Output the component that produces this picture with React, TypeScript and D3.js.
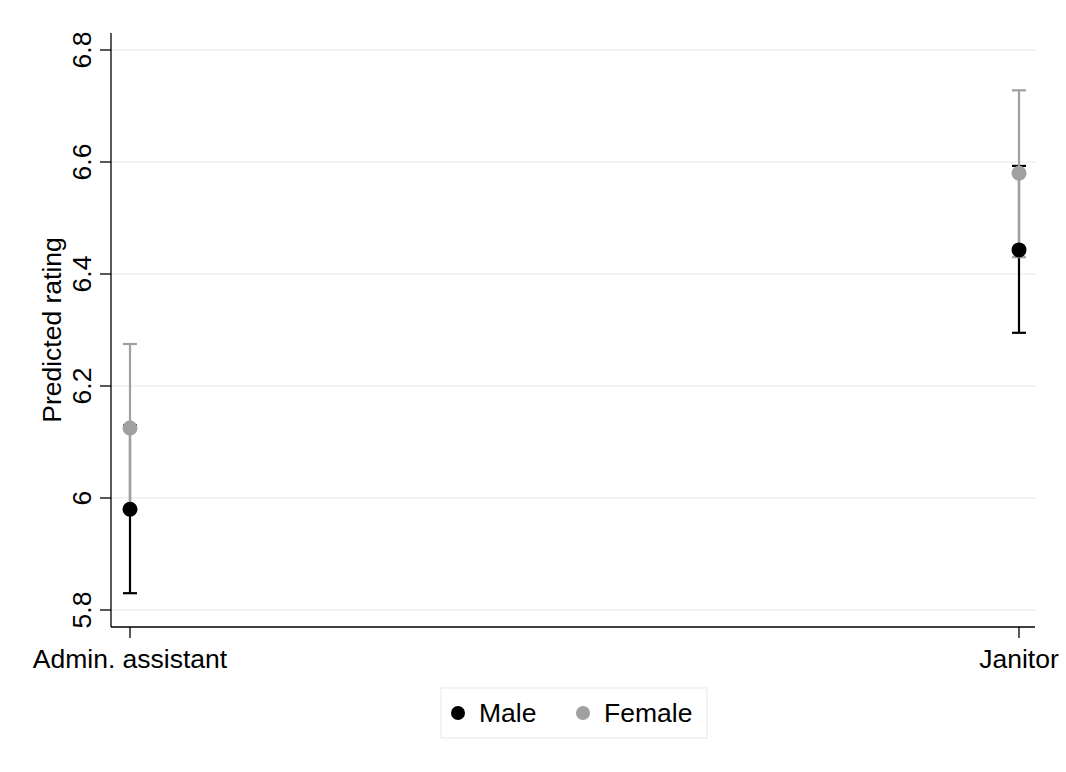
import React from "react";
import * as d3 from "d3";

const categories = ["Admin. assistant", "Janitor"];
const seriesNames = ["Male", "Female"];
const seriesColors = ["#000000", "#a0a0a0"];
const maleMean = [5.98, 6.443];
const maleLow = [5.83, 6.295];
const maleHigh = [6.13, 6.593];
const femaleMean = [6.125, 6.58];
const femaleLow = [5.977, 6.43];
const femaleHigh = [6.275, 6.728];
const yTicks = [5.8, 6, 6.2, 6.4, 6.6, 6.8];

const series = [
  { name: seriesNames[0], color: seriesColors[0], mean: maleMean, low: maleLow, high: maleHigh },
  { name: seriesNames[1], color: seriesColors[1], mean: femaleMean, low: femaleLow, high: femaleHigh },
];

export default function App() {
  const W = 1066, H = 772;
  const left = 111, right = 1035, top = 33, bottom = 627;
  const y = d3.scaleLinear().domain([5.8, 6.8]).range([610, 50]);
  const x = d3.scalePoint<string>().domain(categories).range([130, 1019]);
  const font = "'Liberation Sans', Arial, sans-serif";
  const fs = 26.5;
  return (
    <svg width={W} height={H} style={{ position: "absolute", left: 0, top: 0, background: "#fff" }}>
      <rect x={0} y={0} width={W} height={H} fill="#fff" />
      {yTicks.map((t) => (
        <line key={"g" + t} x1={left} x2={right} y1={y(t)} y2={y(t)} stroke="#eaf2f3" strokeWidth={1.5} />
      ))}
      <line x1={left} x2={left} y1={top} y2={bottom} stroke="#000" strokeWidth={1.3} />
      <line x1={left} x2={right} y1={bottom} y2={bottom} stroke="#000" strokeWidth={1.3} />
      {yTicks.map((t) => (
        <g key={"t" + t}>
          <line x1={left - 11} x2={left} y1={y(t)} y2={y(t)} stroke="#000" strokeWidth={1.3} />
          <text
            transform={`translate(${91},${y(t)}) rotate(-90)`}
            textAnchor="middle"
            fontFamily={font}
            fontSize={fs}
          >
            {d3.format("")(t)}
          </text>
        </g>
      ))}
      {categories.map((c) => (
        <g key={c}>
          <line x1={x(c)} x2={x(c)} y1={bottom} y2={bottom + 11} stroke="#000" strokeWidth={1.3} />
          <text x={x(c)} y={bottom + 41} textAnchor="middle" fontFamily={font} fontSize={fs}>
            {c}
          </text>
        </g>
      ))}
      <text
        transform={`translate(${61},${(top + bottom) / 2}) rotate(-90)`}
        textAnchor="middle"
        fontFamily={font}
        fontSize={fs}
      >
        Predicted rating
      </text>
      {series.map((s) =>
        categories.map((c, i) => (
          <g key={s.name + c}>
            <line x1={x(c)} x2={x(c)} y1={y(s.low[i])} y2={y(s.high[i])} stroke={s.color} strokeWidth={2.2} />
            <line x1={x(c)! - 7} x2={x(c)! + 7} y1={y(s.low[i])} y2={y(s.low[i])} stroke={s.color} strokeWidth={2.2} />
            <line x1={x(c)! - 7} x2={x(c)! + 7} y1={y(s.high[i])} y2={y(s.high[i])} stroke={s.color} strokeWidth={2.2} />
          </g>
        ))
      )}
      {series.map((s) =>
        categories.map((c, i) => (
          <circle key={"p" + s.name + c} cx={x(c)} cy={y(s.mean[i])} r={7.5} fill={s.color} />
        ))
      )}
      <rect x={441} y={688} width={266} height={50} fill="#fff" stroke="#eaf2f3" strokeWidth={1.5} />
      {series.map((s, i) => (
        <g key={"l" + s.name} transform={`translate(${i === 0 ? 458 : 583},${713})`}>
          <circle cx={0} cy={0} r={7} fill={s.color} />
          <text x={21} y={9} fontFamily={font} fontSize={fs}>
            {s.name}
          </text>
        </g>
      ))}
    </svg>
  );
}
